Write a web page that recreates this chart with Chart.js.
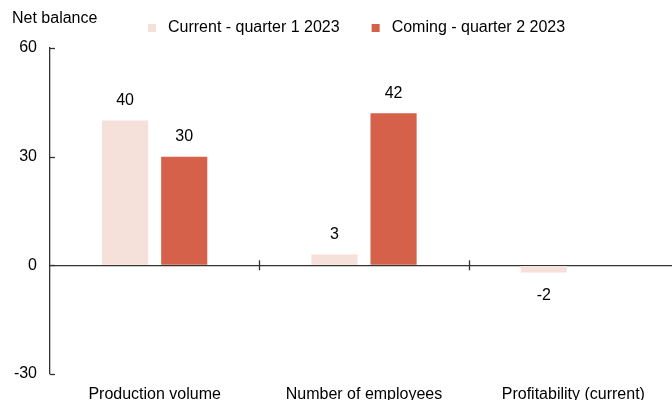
<!DOCTYPE html>
<html>
<head>
<meta charset="utf-8">
<script src="https://cdn.jsdelivr.net/npm/chart.js@4"></script>
<style>
  html, body { margin: 0; padding: 0; background: #fff; overflow: hidden; }
  #wrap { width: 678px; height: 400px; position: relative; }
</style>
</head>
<body>
<div id="wrap"><canvas id="chartBalance"></canvas></div>
<script>
  'use strict';

  const categories = ['Production volume', 'Number of employees', 'Profitability (current)'];
  const currentQ1 = [40, 3, -2];
  const comingQ2 = [30, 42, null];
  const seriesNames = ['Current - quarter 1 2023', 'Coming - quarter 2 2023'];
  const seriesColors = ['#f5e0da', '#d5614a'];
  const yTicks = [-30, 0, 30, 60];

  const FONT = '"Liberation Sans", Arial, sans-serif';
  const AXIS = '#333333';

  // title, legend, value labels and the small ticks the source chart has
  const extras = {
    id: 'extras',
    afterDraw(chart) {
      const ctx = chart.ctx;
      const area = chart.chartArea;
      const y = chart.scales.y;
      const x = chart.scales.x;
      ctx.save();
      ctx.font = '16px ' + FONT;
      ctx.fillStyle = '#000';
      ctx.textBaseline = 'middle';

      ctx.textAlign = 'left';
      ctx.fillText('Net balance', 12, 19);

      // legend
      let lx = 148;
      chart.data.datasets.forEach(function(ds) {
        ctx.fillStyle = ds.backgroundColor;
        ctx.fillRect(lx, 24, 8, 8);
        ctx.fillStyle = '#000';
        ctx.fillText(ds.label, lx + 20, 28);
        lx += 20 + ctx.measureText(ds.label).width + 32;
      });

      // value labels
      ctx.textAlign = 'center';
      chart.data.datasets.forEach(function(ds, i) {
        chart.getDatasetMeta(i).data.forEach(function(bar, j) {
          const v = ds.data[j];
          if (v === null || v === undefined) return;
          const ty = v >= 0 ? bar.y - 20 : bar.y + 23;
          ctx.fillText(String(v), bar.x, ty);
        });
      });

      // inner ticks on the y axis
      ctx.strokeStyle = AXIS;
      ctx.lineWidth = 1.3;
      yTicks.forEach(function(t) {
        const py = Math.round(y.getPixelForValue(t)) + 0.5;
        ctx.beginPath();
        ctx.moveTo(area.left, py);
        ctx.lineTo(area.left + 5, py);
        ctx.stroke();
      });

      // category separators on the zero line
      const zero = y.getPixelForValue(0);
      for (let k = 1; k < categories.length; k++) {
        const px = Math.round((x.getPixelForValue(k - 1) + x.getPixelForValue(k)) / 2) + 0.5;
        ctx.beginPath();
        ctx.moveTo(px, zero - 5);
        ctx.lineTo(px, zero + 5);
        ctx.stroke();
      }
      ctx.restore();
    }
  };

  new Chart(document.getElementById('chartBalance'), {
    type: 'bar',
    data: {
      labels: categories,
      datasets: [
        {
          label: seriesNames[0],
          data: currentQ1,
          backgroundColor: seriesColors[0],
          categoryPercentage: 0.565,
          barPercentage: 0.78
        },
        {
          label: seriesNames[1],
          data: comingQ2,
          backgroundColor: seriesColors[1],
          categoryPercentage: 0.565,
          barPercentage: 0.78
        }
      ]
    },
    options: {
      responsive: true,
      maintainAspectRatio: false,
      animation: false,
      layout: { padding: { top: 48, left: 0, right: 0, bottom: 0 } },
      plugins: {
        legend: { display: false },
        title: { display: false },
        tooltip: { enabled: false }
      },
      scales: {
        x: {
          grid: { display: false, drawTicks: false },
          border: { display: false },
          ticks: { color: '#000', font: { family: FONT, size: 16 }, padding: 11, maxRotation: 0 },
          afterFit: function(scale) { scale.height = 26; }
        },
        y: {
          min: -30,
          max: 60,
          afterBuildTicks: function(scale) {
            scale.ticks = yTicks.map(function(v) { return { value: v }; });
          },
          grid: {
            drawTicks: false,
            lineWidth: 1.3,
            color: function(c) { return c.tick && c.tick.value === 0 ? AXIS : 'rgba(0,0,0,0)'; }
          },
          border: { display: true, color: AXIS, width: 1.3 },
          ticks: { color: '#000', font: { family: FONT, size: 16 }, padding: 13 },
          afterFit: function(scale) { scale.width = 50; }
        }
      }
    },
    plugins: [extras]
  });
</script>
</body>
</html>
